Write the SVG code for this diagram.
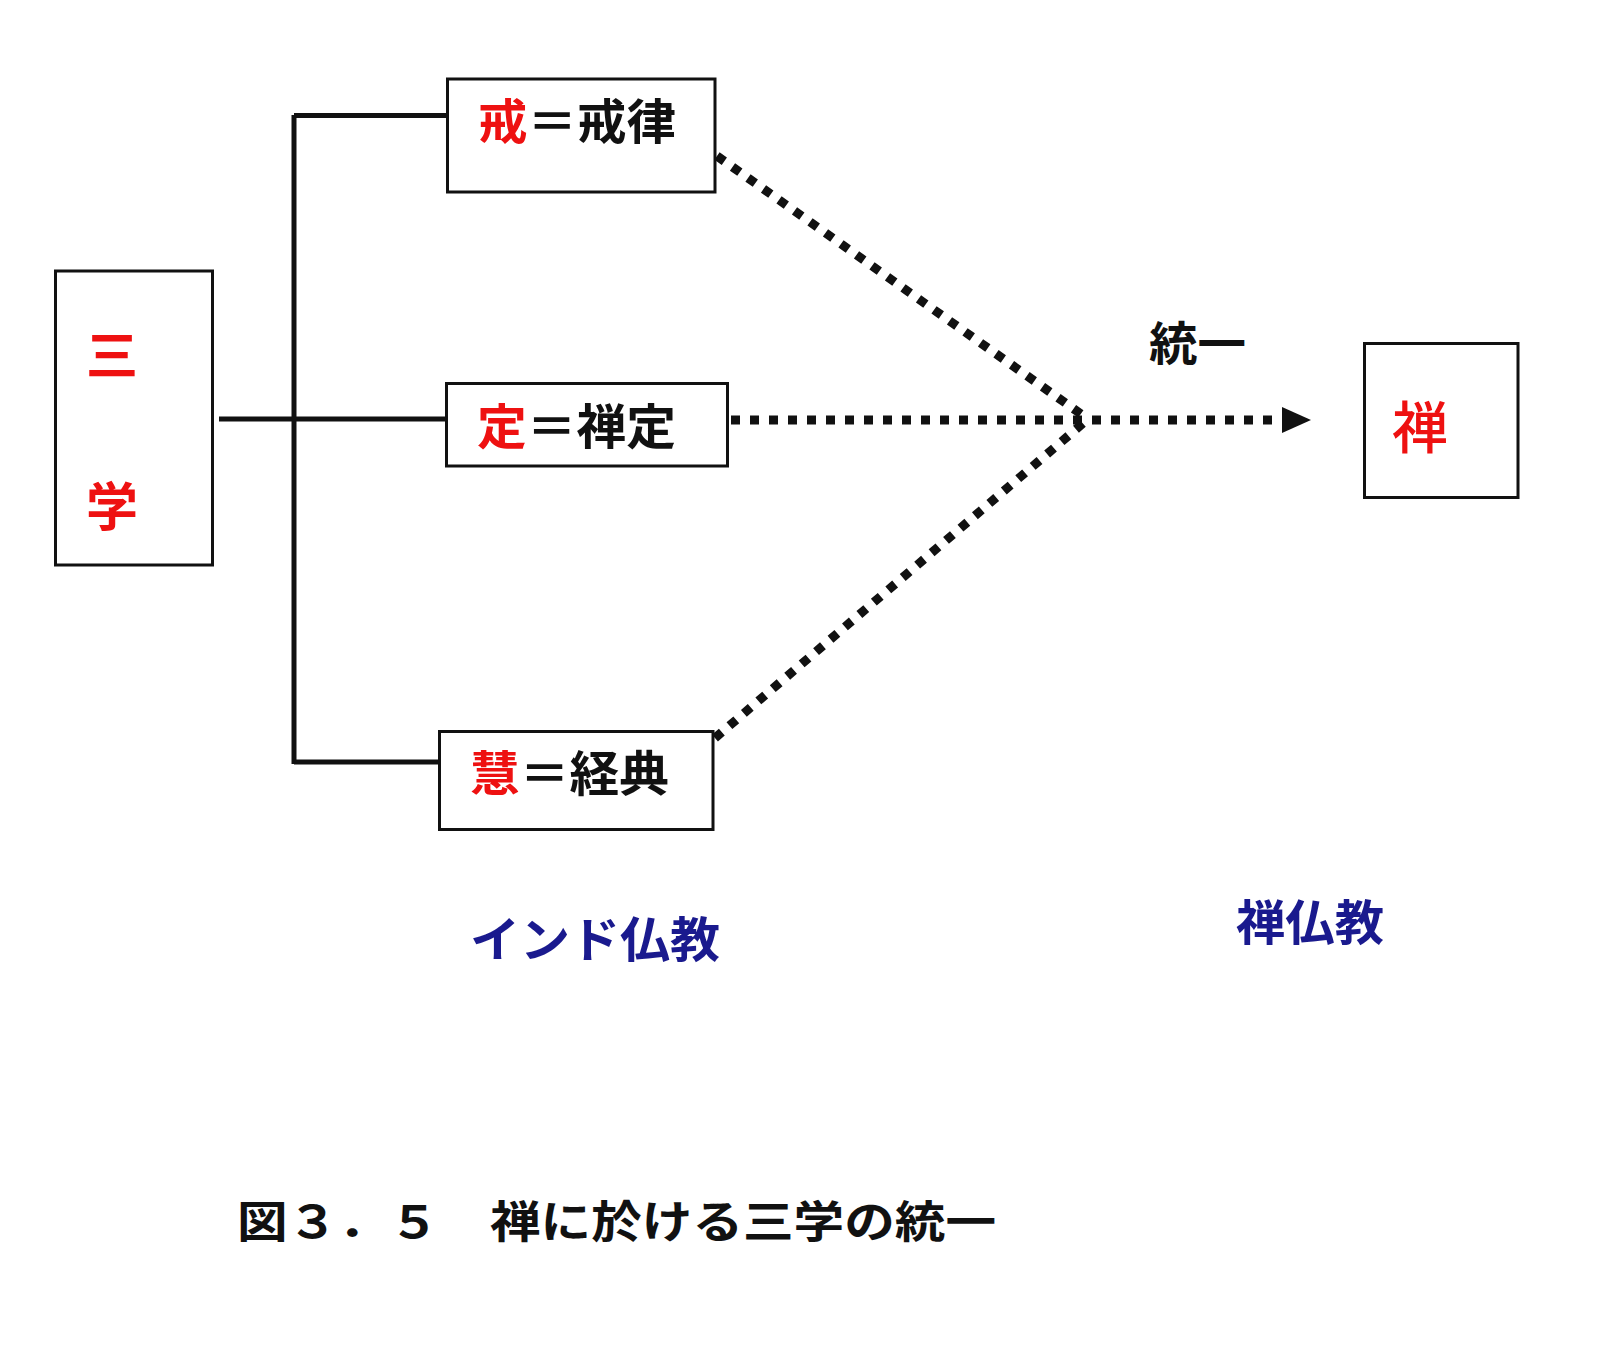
<svg xmlns="http://www.w3.org/2000/svg" width="1602" height="1357" viewBox="0 0 1602 1357">
<defs>
<style>
.box{fill:#fff;stroke:#111;stroke-width:3}
.t{font-family:"Noto Sans CJK JP","Noto Sans CJK SC",sans-serif;font-weight:bold;dominant-baseline:central}
.red{fill:#ee1111}
.blk{fill:#111}
.blue{fill:#1a1a8e}
.solid{fill:none;stroke:#111;stroke-width:5}
.dot{fill:none;stroke:#111;stroke-width:9;stroke-dasharray:9 10}
</style>
</defs>
<rect width="1602" height="1357" fill="#fff"/>
<g id="connectors">
<path class="solid" d="M219,419 H447 M294,115 V764 M294,115.5 H447.5 M294,762 H439"/>
<path class="dot" d="M717,156 L1088,419"/>
<path class="dot" d="M715,738 L1088,419"/>
<path class="dot" d="M731,420 L1282,420"/>
<path id="arrowhead" d="M1282,407 L1311,420 L1282,433 Z" fill="#111"/>
</g>
<g id="node-sangaku">
<rect class="box" x="55.5" y="271" width="157" height="294"/>
<text class="t red" x="112" y="352" font-size="52" text-anchor="middle">三</text>
<text class="t red" x="112" y="503" font-size="52" text-anchor="middle">学</text>
</g>
<g id="node-kai">
<rect class="box" x="447.5" y="79" width="267.5" height="113"/>
<text class="t" x="478" y="118" font-size="48" textLength="198" lengthAdjust="spacingAndGlyphs"><tspan class="red">戒</tspan><tspan class="blk">＝戒律</tspan></text>
</g>
<g id="node-jo">
<rect class="box" x="446.5" y="383.5" width="281" height="82.5"/>
<text class="t" x="477" y="423" font-size="48" textLength="199" lengthAdjust="spacingAndGlyphs"><tspan class="red">定</tspan><tspan class="blk">＝禅定</tspan></text>
</g>
<g id="node-e">
<rect class="box" x="439.5" y="731.5" width="273.5" height="98"/>
<text class="t" x="470" y="770" font-size="48" textLength="199" lengthAdjust="spacingAndGlyphs"><tspan class="red">慧</tspan><tspan class="blk">＝経典</tspan></text>
</g>
<g id="label-toitsu">
<text class="t blk" x="1149" y="340" font-size="46" textLength="97" lengthAdjust="spacingAndGlyphs">統一</text>
</g>
<g id="node-zen">
<rect class="box" x="1364.5" y="343.5" width="153.5" height="154"/>
<text class="t red" x="1420" y="423" font-size="56" style="font-weight:500" text-anchor="middle">禅</text>
</g>
<g id="label-india">
<text class="t blue" x="470" y="936" font-size="48" textLength="250" lengthAdjust="spacingAndGlyphs">インド仏教</text>
</g>
<g id="label-zenbukkyo">
<text class="t blue" x="1236" y="919" font-size="48" textLength="148" lengthAdjust="spacingAndGlyphs">禅仏教</text>
</g>
<g id="caption">
<text class="t blk" x="237" y="1219" font-size="44" textLength="759" lengthAdjust="spacingAndGlyphs">図３．５　禅に於ける三学の統一</text>
</g>
</svg>
